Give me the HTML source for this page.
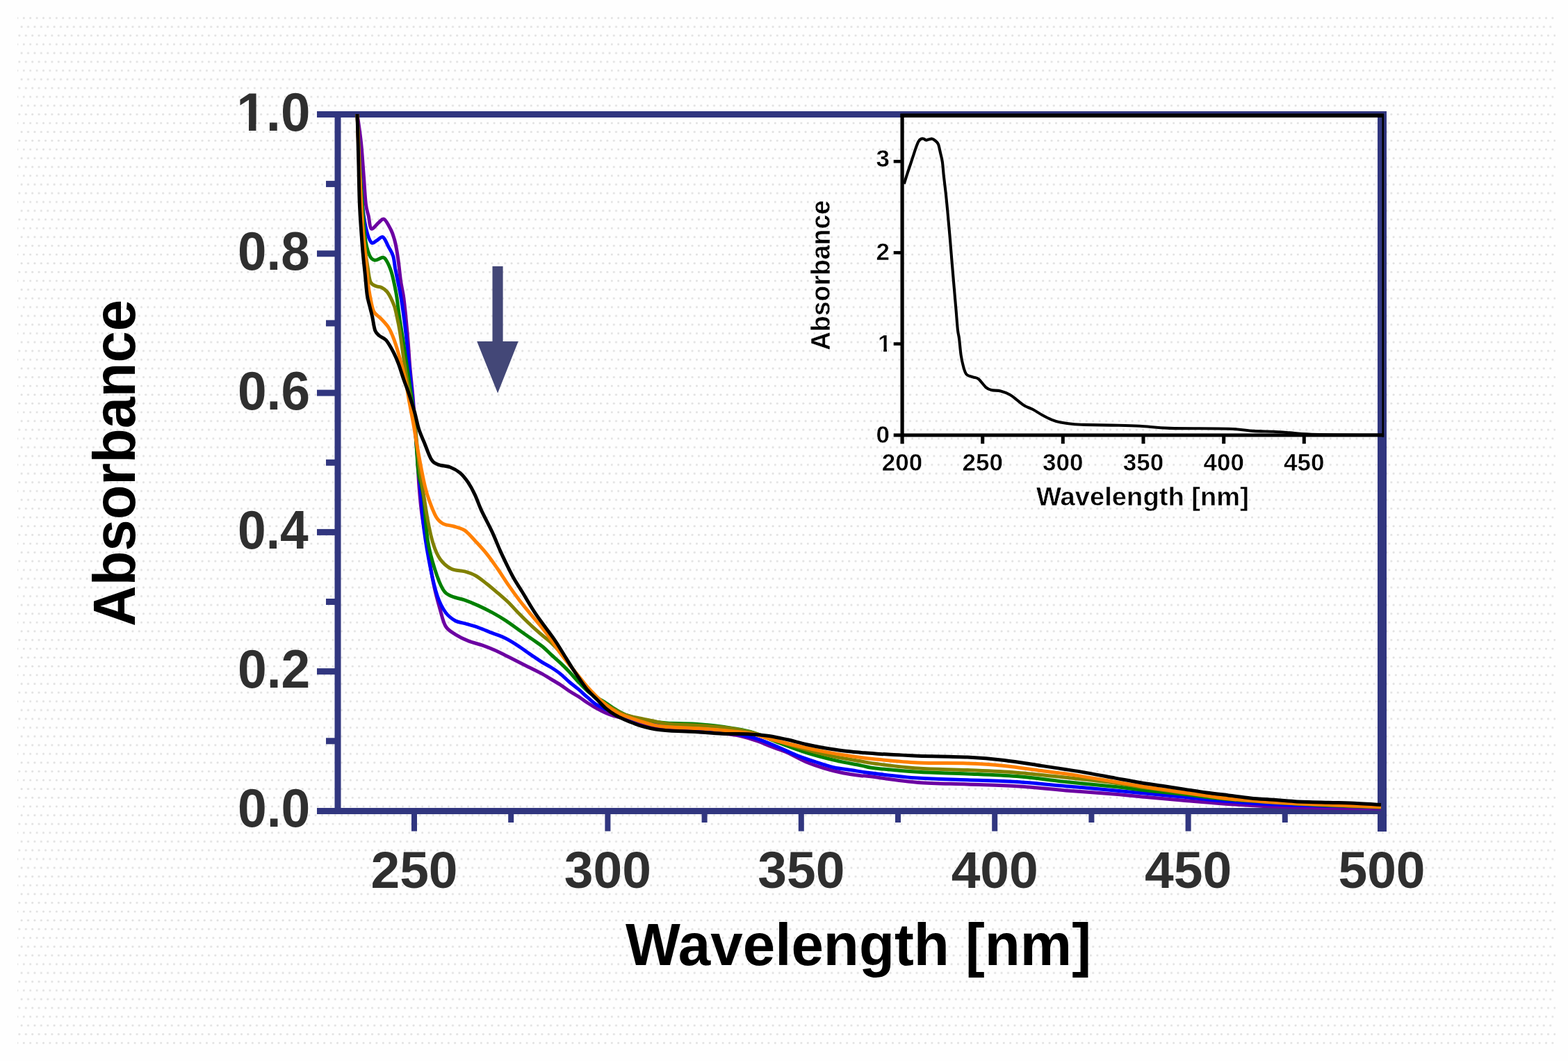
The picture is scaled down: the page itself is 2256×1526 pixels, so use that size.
<!DOCTYPE html>
<html><head><meta charset="utf-8"><title>Absorbance spectra</title>
<style>
html,body{margin:0;padding:0;background:#fff;}
body{width:2256px;height:1526px;overflow:hidden;position:relative;}
svg{position:absolute;left:0;top:0;}
</style></head>
<body>
<svg width="2256" height="1526" viewBox="0 0 2256 1526">
<defs><pattern id="dots" x="0" y="0" width="9.4" height="37.8" patternUnits="userSpaceOnUse"><g fill="#e0e0e0"><circle cx="6.1" cy="25.9" r="1.5"/><circle cx="2.9" cy="0.7" r="1.5"/><circle cx="2.9" cy="38.5" r="1.5"/><circle cx="9.1" cy="13.3" r="1.5"/><circle cx="-0.3" cy="13.3" r="1.5"/></g></pattern></defs>
<rect x="0" y="0" width="2256" height="1526" fill="#fefefe"/>
<rect x="25" y="16" width="2213" height="1489" fill="url(#dots)"/>
<g fill="#31367f">
<rect x="456" y="160" width="1539" height="9"/>
<rect x="456" y="1162" width="1539" height="9"/>
<rect x="481.5" y="160" width="9" height="1011"/>
<rect x="1982" y="160" width="13" height="1036"/>
<rect x="456" y="961.2" width="30" height="9"/>
<rect x="456" y="760.9" width="30" height="9"/>
<rect x="456" y="560.6" width="30" height="9"/>
<rect x="456" y="360.3" width="30" height="9"/>
<rect x="469" y="1061.3" width="17" height="9"/>
<rect x="469" y="861.0" width="17" height="9"/>
<rect x="469" y="660.8" width="17" height="9"/>
<rect x="469" y="460.4" width="17" height="9"/>
<rect x="469" y="260.1" width="17" height="9"/>
<rect x="592.0" y="1166" width="8" height="29.5"/>
<rect x="870.4" y="1166" width="8" height="29.5"/>
<rect x="1148.8" y="1166" width="8" height="29.5"/>
<rect x="1427.2" y="1166" width="8" height="29.5"/>
<rect x="1705.6" y="1166" width="8" height="29.5"/>
<rect x="731.2" y="1166" width="8" height="17"/>
<rect x="1009.6" y="1166" width="8" height="17"/>
<rect x="1288.0" y="1166" width="8" height="17"/>
<rect x="1566.4" y="1166" width="8" height="17"/>
<rect x="1844.8" y="1166" width="8" height="17"/>
</g>
<g font-family="Liberation Sans, Arial, sans-serif" font-weight="bold" fill="#2f2f2f">
<text x="342.00" y="1189.4" font-size="78" textLength="104.39" lengthAdjust="spacingAndGlyphs">0.0</text>
<text x="342.00" y="989.1" font-size="78" textLength="104.31" lengthAdjust="spacingAndGlyphs">0.2</text>
<text x="342.08" y="788.8" font-size="78" textLength="101.60" lengthAdjust="spacingAndGlyphs">0.4</text>
<text x="342.01" y="588.5" font-size="78" textLength="104.00" lengthAdjust="spacingAndGlyphs">0.6</text>
<text x="342.02" y="388.2" font-size="78" textLength="103.60" lengthAdjust="spacingAndGlyphs">0.8</text>
<clipPath id="c1"><rect x="0" y="0" width="2256" height="179.0"/><rect x="357.99" y="0" width="10.47" height="1526"/><rect x="381.84" y="0" width="800" height="1526"/></clipPath>
<text x="340.18" y="187.9" font-size="78" textLength="106.26" lengthAdjust="spacingAndGlyphs" clip-path="url(#c1)">1.0</text>
<text x="596.0" y="1277.3" font-size="75" text-anchor="middle">250</text>
<text x="874.4" y="1277.3" font-size="75" text-anchor="middle">300</text>
<text x="1152.8" y="1277.3" font-size="75" text-anchor="middle">350</text>
<text x="1431.2" y="1277.3" font-size="75" text-anchor="middle">400</text>
<text x="1709.6" y="1277.3" font-size="75" text-anchor="middle">450</text>
<text x="1988.0" y="1277.3" font-size="75" text-anchor="middle">500</text>
</g>
<g font-family="Liberation Sans, Arial, sans-serif" font-weight="bold" fill="#000">
<text x="900" y="1388" font-size="86" textLength="670" lengthAdjust="spacingAndGlyphs">Wavelength [nm]</text>
<text transform="translate(194.3,901) rotate(-90)" x="0" y="0" font-size="86" textLength="470" lengthAdjust="spacingAndGlyphs">Absorbance</text>
</g>
<path d="M708.5,383 H723.6 V491 H745.7 L716.1,565.5 L686.2,491 H708.5 Z" fill="#434777"/>
<g fill="#000">
<rect x="1295.5" y="163.3" width="695.5" height="5.7"/>
<rect x="1988.4" y="164" width="2.8" height="464.6"/>
<rect x="1295.5" y="164" width="5.2" height="474.3"/>
<rect x="1285.7" y="623.4" width="705.5" height="5"/>
<rect x="1285.7" y="492.3" width="12" height="4.6"/>
<rect x="1285.7" y="361.1" width="12" height="4.6"/>
<rect x="1285.7" y="229.9" width="12" height="4.6"/>
<rect x="1411.2" y="625" width="5" height="13.2"/>
<rect x="1526.8" y="625" width="5" height="13.2"/>
<rect x="1642.5" y="625" width="5" height="13.2"/>
<rect x="1758.2" y="625" width="5" height="13.2"/>
<rect x="1873.8" y="625" width="5" height="13.2"/>
</g>
<g font-family="Liberation Sans, Arial, sans-serif" font-weight="bold" fill="#000" stroke="#fefefe" stroke-width="0.5">
<text x="1280" y="637.3" font-size="35" text-anchor="end">0</text>
<clipPath id="c2"><rect x="0" y="0" width="2256" height="502.0"/><rect x="1271.2" y="0" width="4.8" height="1526"/></clipPath>
<text x="1282.5" y="506.1" font-size="35" text-anchor="end" clip-path="url(#c2)">1</text>
<text x="1280" y="373.9" font-size="35" text-anchor="end">2</text>
<text x="1280" y="240.2" font-size="35" text-anchor="end">3</text>
<text x="1298.0" y="676.8" font-size="35" text-anchor="middle">200</text>
<text x="1413.7" y="676.8" font-size="35" text-anchor="middle">250</text>
<text x="1529.3" y="676.8" font-size="35" text-anchor="middle">300</text>
<text x="1645.0" y="676.8" font-size="35" text-anchor="middle">350</text>
<text x="1760.7" y="676.8" font-size="35" text-anchor="middle">400</text>
<text x="1876.3" y="676.8" font-size="35" text-anchor="middle">450</text>
<text x="1491" y="727.2" font-size="36" textLength="306" lengthAdjust="spacingAndGlyphs">Wavelength [nm]</text>
<text transform="translate(1194,504) rotate(-90)" font-size="39" textLength="216" lengthAdjust="spacingAndGlyphs">Absorbance</text>
</g>
<path d="M1300.8,264.5 C1301.6,261.9 1304.2,253.4 1305.7,248.8 C1307.2,244.2 1308.4,240.9 1309.7,237.0 C1311.0,233.1 1312.3,229.1 1313.6,225.2 C1314.9,221.3 1316.2,217.0 1317.5,213.4 C1318.8,209.8 1320.2,205.9 1321.5,203.6 C1322.8,201.3 1324.1,200.3 1325.4,199.7 C1326.7,199.0 1328.2,199.4 1329.3,199.7 C1330.4,200.0 1331.1,201.4 1332.3,201.6 C1333.5,201.8 1334.7,200.9 1336.2,200.6 C1337.7,200.3 1339.5,199.4 1341.1,199.7 C1342.7,200.0 1344.5,201.3 1346.0,202.6 C1347.5,203.9 1348.8,204.7 1350.0,207.5 C1351.2,210.3 1351.9,215.0 1352.9,219.3 C1353.9,223.6 1355.1,227.5 1355.9,233.1 C1356.7,238.7 1357.0,245.2 1357.8,252.7 C1358.6,260.2 1359.8,269.1 1360.8,278.3 C1361.8,287.5 1362.7,297.3 1363.7,307.8 C1364.7,318.3 1365.7,329.7 1366.7,341.2 C1367.7,352.7 1368.6,364.8 1369.6,376.6 C1370.6,388.4 1371.6,400.5 1372.6,412.0 C1373.6,423.5 1374.6,434.9 1375.5,445.4 C1376.4,455.9 1377.2,468.1 1378.0,475.0 C1378.8,481.9 1379.2,480.7 1380.0,486.6 C1380.8,492.5 1381.6,503.9 1382.6,510.5 C1383.6,517.1 1384.6,521.8 1385.9,526.5 C1387.2,531.2 1388.3,535.9 1390.6,538.5 C1392.9,541.1 1397.0,541.3 1399.9,542.4 C1402.8,543.5 1404.8,542.6 1407.9,545.1 C1411.0,547.6 1415.4,554.4 1418.5,557.1 C1421.6,559.8 1423.0,560.2 1426.5,561.1 C1430.0,562.0 1435.4,561.3 1439.8,562.4 C1444.2,563.5 1449.1,565.5 1453.1,567.7 C1457.1,569.9 1460.2,573.0 1463.7,575.7 C1467.2,578.4 1470.6,581.5 1474.4,583.7 C1478.2,585.9 1482.1,586.8 1486.3,589.0 C1490.5,591.2 1495.2,594.6 1499.6,597.0 C1504.0,599.4 1508.5,601.8 1512.9,603.6 C1517.3,605.4 1520.7,606.5 1526.2,607.6 C1531.8,608.7 1540.7,609.8 1546.2,610.3 C1551.8,610.8 1550.6,610.7 1559.5,610.9 C1568.4,611.1 1586.0,611.3 1599.4,611.6 C1612.8,611.9 1626.0,612.0 1640.0,612.7 C1654.0,613.4 1661.8,615.2 1683.1,615.9 C1704.4,616.6 1747.8,616.0 1767.7,616.7 C1787.7,617.4 1792.2,619.2 1802.8,619.9 C1813.4,620.6 1822.7,620.3 1831.5,620.7 C1840.3,621.1 1846.1,621.6 1855.4,622.3 C1864.7,623.0 1864.9,624.2 1887.3,624.7 C1909.7,625.2 1972.9,625.4 1990.0,625.5" fill="none" stroke="#000" stroke-width="4.1" stroke-linejoin="round"/>
<g fill="none" stroke-width="5.0" stroke-linejoin="round" stroke-linecap="butt">
<path d="M514.0,164.0 C514.9,170.8 517.9,190.0 519.5,205.0 C521.1,220.0 522.2,239.2 523.4,254.0 C524.5,268.8 525.2,284.2 526.4,293.7 C527.5,303.2 529.0,305.1 530.3,311.0 C531.6,316.9 531.8,327.5 534.2,329.0 C536.7,330.5 541.9,322.3 545.0,320.0 C548.1,317.7 549.9,313.5 552.9,315.3 C555.9,317.1 560.2,326.1 562.7,331.0 C565.2,335.9 566.3,340.2 567.6,344.8 C568.9,349.4 569.6,352.9 570.6,358.5 C571.6,364.1 572.5,370.6 573.5,378.2 C574.5,385.8 575.4,395.9 576.5,403.8 C577.6,411.7 579.2,417.5 580.4,425.4 C581.5,433.3 582.3,440.2 583.4,451.0 C584.5,461.8 585.9,476.8 587.0,490.0 C588.1,503.2 588.8,516.7 590.0,530.0 C591.2,543.3 592.8,556.7 594.0,570.0 C595.2,583.3 596.0,596.7 597.0,610.0 C598.0,623.3 599.0,635.0 600.0,650.0 C601.0,665.0 601.8,685.0 603.0,700.0 C604.2,715.0 605.2,726.9 607.0,740.0 C608.8,753.1 610.9,762.4 613.6,778.7 C616.3,795.0 620.1,821.3 623.4,837.7 C626.7,854.1 630.3,866.5 633.3,877.0 C636.2,887.5 637.5,894.7 641.1,900.6 C644.7,906.5 649.3,908.8 654.9,912.4 C660.5,916.0 668.0,919.6 674.6,922.2 C681.2,924.8 687.7,925.8 694.2,928.1 C700.8,930.4 707.3,933.0 713.9,936.0 C720.5,939.0 727.0,942.5 733.6,945.8 C740.2,949.1 746.7,952.4 753.2,955.7 C759.8,959.0 768.4,963.3 772.9,965.5 C777.4,967.7 776.6,967.2 780.0,969.1 C783.4,971.0 788.7,974.4 793.1,977.0 C797.5,979.6 801.8,982.0 806.2,984.8 C810.6,987.6 814.9,991.1 819.3,994.0 C823.7,996.9 828.0,999.1 832.4,1001.9 C836.8,1004.7 841.1,1008.2 845.5,1011.0 C849.9,1013.8 854.2,1016.5 858.6,1018.9 C863.0,1021.3 867.8,1023.8 871.7,1025.5 C875.6,1027.2 877.5,1028.0 882.2,1029.4 C886.9,1030.8 892.0,1031.9 900.0,1034.0 C908.0,1036.1 920.0,1039.8 930.0,1042.0 C940.0,1044.2 948.3,1045.3 960.0,1047.0 C971.7,1048.7 986.7,1050.7 1000.0,1052.0 C1013.3,1053.3 1029.2,1053.9 1040.0,1055.0 C1050.8,1056.1 1056.7,1056.7 1065.0,1058.5 C1073.3,1060.3 1082.5,1063.4 1090.0,1066.0 C1097.5,1068.6 1102.8,1071.3 1110.0,1074.0 C1117.2,1076.7 1124.7,1078.8 1132.9,1082.4 C1141.2,1086.0 1150.6,1091.9 1159.5,1095.7 C1168.4,1099.5 1177.2,1102.3 1186.1,1105.0 C1195.0,1107.7 1203.8,1109.9 1212.7,1111.7 C1221.6,1113.5 1233.1,1114.9 1239.3,1115.7 C1245.5,1116.5 1236.4,1114.9 1250.0,1116.5 C1263.6,1118.1 1297.3,1123.5 1320.9,1125.4 C1344.5,1127.3 1368.2,1127.1 1391.8,1128.0 C1415.4,1128.9 1439.1,1129.2 1462.8,1130.7 C1486.5,1132.2 1510.1,1135.0 1533.7,1136.9 C1557.3,1138.8 1585.2,1140.6 1604.6,1142.2 C1624.0,1143.8 1634.1,1145.1 1650.0,1146.6 C1665.9,1148.1 1681.7,1149.4 1700.0,1151.0 C1718.3,1152.6 1738.3,1154.5 1760.0,1156.0 C1781.7,1157.5 1806.7,1159.0 1830.0,1160.0 C1853.3,1161.0 1873.8,1161.5 1900.0,1162.0 C1926.2,1162.5 1972.5,1162.8 1987.0,1163.0" stroke="#6c00a2"/>
<path d="M514.0,164.0 C514.3,171.7 515.2,194.0 516.0,210.0 C516.8,226.0 518.0,245.0 519.0,260.0 C520.0,275.0 520.7,288.3 522.0,300.0 C523.3,311.7 525.0,321.9 527.0,330.0 C529.0,338.1 531.7,346.0 534.2,348.7 C536.7,351.4 539.2,347.3 542.0,346.0 C544.8,344.7 548.2,339.5 551.0,340.9 C553.8,342.3 556.3,350.0 558.8,354.6 C561.2,359.2 564.1,363.2 565.7,368.4 C567.3,373.6 567.5,379.8 568.6,386.0 C569.8,392.2 571.3,399.1 572.6,405.7 C573.9,412.3 575.2,417.8 576.5,425.4 C577.8,432.9 579.1,441.9 580.4,451.0 C581.6,460.1 582.7,468.5 584.0,480.0 C585.3,491.5 586.7,506.7 588.0,520.0 C589.3,533.3 590.7,546.7 592.0,560.0 C593.3,573.3 594.7,585.0 596.0,600.0 C597.3,615.0 598.5,633.3 600.0,650.0 C601.5,666.7 603.1,681.8 604.7,700.0 C606.3,718.2 607.2,739.3 609.7,759.0 C612.2,778.7 616.2,801.6 619.5,818.0 C622.8,834.4 625.7,846.8 629.3,857.3 C632.9,867.8 636.8,875.0 641.1,880.9 C645.4,886.8 650.3,890.1 654.9,892.7 C659.5,895.3 663.1,895.1 668.7,896.7 C674.3,898.4 681.8,900.3 688.3,902.6 C694.8,904.9 701.4,907.8 708.0,910.4 C714.6,913.0 721.2,915.0 727.7,918.3 C734.2,921.6 740.8,925.8 747.3,930.1 C753.8,934.4 761.5,940.2 767.0,943.9 C772.5,947.6 775.6,949.8 780.0,952.5 C784.4,955.2 788.7,957.2 793.1,960.0 C797.5,962.8 801.8,965.6 806.2,969.1 C810.6,972.6 814.9,977.3 819.3,981.0 C823.7,984.7 828.0,987.7 832.4,991.4 C836.8,995.1 841.1,999.5 845.5,1003.2 C849.9,1006.9 854.2,1010.9 858.6,1013.7 C863.0,1016.5 866.5,1017.8 871.7,1020.2 C876.9,1022.6 883.5,1025.6 890.0,1028.0 C896.5,1030.4 900.3,1032.2 911.0,1034.7 C921.7,1037.2 939.5,1041.0 954.3,1043.2 C969.1,1045.4 985.7,1046.5 1000.0,1048.0 C1014.3,1049.5 1027.8,1050.2 1040.0,1052.0 C1052.2,1053.8 1064.2,1056.5 1073.0,1058.5 C1081.8,1060.5 1085.2,1061.1 1093.0,1063.8 C1100.8,1066.5 1110.7,1070.7 1119.6,1074.5 C1128.5,1078.3 1137.3,1082.9 1146.2,1086.4 C1155.1,1089.9 1163.9,1092.8 1172.8,1095.7 C1181.7,1098.6 1190.5,1101.7 1199.4,1103.7 C1208.3,1105.7 1217.6,1106.4 1226.0,1107.7 C1234.4,1109.0 1234.2,1109.6 1250.0,1111.5 C1265.8,1113.4 1297.3,1117.4 1320.9,1119.1 C1344.5,1120.8 1368.2,1120.9 1391.8,1121.8 C1415.4,1122.7 1439.1,1123.0 1462.8,1124.5 C1486.5,1126.0 1510.1,1128.6 1533.7,1130.7 C1557.3,1132.8 1585.2,1135.1 1604.6,1136.9 C1624.0,1138.7 1634.1,1139.8 1650.0,1141.3 C1665.9,1142.8 1681.7,1144.2 1700.0,1146.0 C1718.3,1147.8 1738.3,1150.2 1760.0,1152.0 C1781.7,1153.8 1806.7,1155.8 1830.0,1157.0 C1853.3,1158.2 1873.8,1158.5 1900.0,1159.0 C1926.2,1159.5 1972.5,1159.8 1987.0,1160.0" stroke="#0000ff"/>
<path d="M514.0,164.0 C514.5,175.0 515.8,209.0 517.0,230.0 C518.2,251.0 519.7,271.7 521.0,290.0 C522.3,308.3 523.3,327.3 525.0,340.0 C526.7,352.7 528.9,360.7 531.3,366.4 C533.6,372.1 535.8,373.6 539.1,374.3 C542.4,375.0 548.0,370.0 551.0,370.3 C554.0,370.6 554.8,372.9 556.8,376.2 C558.8,379.5 561.1,385.1 562.7,390.0 C564.4,394.9 565.4,399.8 566.7,405.7 C568.0,411.6 569.3,417.2 570.6,425.4 C571.9,433.6 572.9,444.1 574.5,454.9 C576.1,465.7 578.1,477.5 580.0,490.0 C581.9,502.5 584.0,516.7 586.0,530.0 C588.0,543.3 590.3,558.3 592.0,570.0 C593.7,581.7 594.8,588.3 596.0,600.0 C597.2,611.7 598.0,626.7 599.0,640.0 C600.0,653.3 600.7,670.0 602.0,680.0 C603.3,690.0 605.4,693.3 606.7,700.0 C608.0,706.7 608.5,706.9 610.0,720.0 C611.5,733.1 613.0,762.4 615.6,778.7 C618.2,795.0 621.8,806.5 625.4,818.0 C629.0,829.5 633.3,841.0 637.2,847.5 C641.1,854.0 643.8,854.7 649.0,857.3 C654.2,859.9 662.2,860.9 668.7,863.2 C675.2,865.5 681.8,868.2 688.3,871.1 C694.8,874.0 701.4,877.3 708.0,880.9 C714.6,884.5 721.2,888.4 727.7,892.7 C734.2,897.0 740.8,901.9 747.3,906.5 C753.8,911.1 761.5,916.5 767.0,920.3 C772.5,924.1 775.6,926.0 780.0,929.5 C784.4,933.0 788.7,937.6 793.1,941.6 C797.5,945.6 801.8,949.2 806.2,953.4 C810.6,957.5 814.9,961.9 819.3,966.5 C823.7,971.1 828.0,976.4 832.4,981.0 C836.8,985.6 840.9,990.2 845.5,994.0 C850.1,997.8 855.6,1001.2 860.0,1004.0 C864.4,1006.8 867.5,1008.3 871.7,1011.0 C875.9,1013.7 880.3,1017.2 885.0,1020.0 C889.7,1022.8 894.2,1025.7 900.0,1028.0 C905.8,1030.3 913.3,1032.4 920.0,1034.0 C926.7,1035.6 933.3,1036.5 940.0,1037.5 C946.7,1038.5 950.0,1039.3 960.0,1039.9 C970.0,1040.5 986.6,1040.3 999.9,1041.2 C1013.2,1042.1 1026.5,1043.3 1039.8,1045.2 C1053.1,1047.1 1066.4,1048.7 1079.7,1052.5 C1093.0,1056.3 1106.3,1063.0 1119.6,1068.0 C1132.9,1073.0 1146.2,1078.2 1159.5,1082.4 C1172.8,1086.6 1186.1,1090.0 1199.4,1093.1 C1212.7,1096.2 1229.2,1099.1 1239.3,1101.1 C1249.4,1103.1 1246.4,1103.5 1260.0,1105.0 C1273.6,1106.5 1298.9,1109.0 1320.9,1110.3 C1342.9,1111.6 1368.2,1111.9 1391.8,1112.9 C1415.4,1113.9 1439.1,1114.6 1462.8,1116.5 C1486.5,1118.4 1510.1,1122.0 1533.7,1124.5 C1557.3,1127.0 1585.2,1129.5 1604.6,1131.6 C1624.0,1133.7 1634.1,1135.2 1650.0,1136.9 C1665.9,1138.6 1681.7,1140.0 1700.0,1142.0 C1718.3,1144.0 1738.3,1147.0 1760.0,1149.0 C1781.7,1151.0 1806.7,1152.5 1830.0,1154.0 C1853.3,1155.5 1873.8,1156.8 1900.0,1158.0 C1926.2,1159.2 1972.5,1160.5 1987.0,1161.0" stroke="#008000"/>
<path d="M514.0,164.0 C514.5,175.0 516.0,207.3 517.0,230.0 C518.0,252.7 518.8,280.0 520.0,300.0 C521.2,320.0 522.5,335.7 524.0,350.0 C525.5,364.3 527.8,376.7 529.3,386.0 C530.8,395.3 531.2,401.4 533.2,405.7 C535.2,410.0 538.5,410.3 541.1,411.6 C543.7,412.9 546.4,412.3 549.0,413.6 C551.6,414.9 554.5,416.9 556.8,419.5 C559.1,422.1 560.9,425.7 562.7,429.3 C564.5,432.9 566.2,436.8 567.6,441.1 C569.0,445.4 569.8,449.4 571.0,455.0 C572.2,460.6 573.5,465.8 575.0,475.0 C576.5,484.2 578.2,497.8 580.0,510.0 C581.8,522.2 584.0,536.3 586.0,548.0 C588.0,559.7 590.2,569.3 592.0,580.0 C593.8,590.7 595.7,602.0 597.0,612.0 C598.3,622.0 599.0,630.3 600.0,640.0 C601.0,649.7 601.7,660.0 603.0,670.0 C604.3,680.0 605.6,686.8 607.7,700.0 C609.8,713.2 613.0,735.4 615.6,749.2 C618.2,763.0 620.5,773.4 623.4,782.6 C626.3,791.8 629.0,798.3 633.3,804.2 C637.6,810.1 643.1,815.0 649.0,818.0 C654.9,821.0 662.8,820.2 668.7,821.9 C674.6,823.6 679.2,825.1 684.4,828.0 C689.6,830.9 694.9,835.4 700.1,839.5 C705.4,843.6 710.6,848.1 715.9,852.6 C721.1,857.1 726.4,861.4 731.6,866.5 C736.8,871.6 742.0,877.7 747.3,883.0 C752.5,888.3 757.6,893.4 763.1,898.5 C768.6,903.6 775.0,909.2 780.0,913.5 C785.0,917.8 788.7,920.3 793.1,924.5 C797.5,928.7 801.9,933.4 806.2,938.5 C810.5,943.6 814.7,949.2 819.0,955.0 C823.3,960.8 827.6,967.2 832.0,973.0 C836.4,978.8 840.8,984.8 845.5,990.0 C850.2,995.2 855.6,1000.2 860.0,1004.0 C864.4,1007.8 867.8,1010.2 872.0,1013.0 C876.2,1015.8 880.3,1018.5 885.0,1021.0 C889.7,1023.5 894.2,1026.0 900.0,1028.0 C905.8,1030.0 913.8,1031.6 920.0,1033.0 C926.2,1034.4 930.6,1035.2 937.3,1036.5 C944.0,1037.8 949.5,1039.9 960.0,1041.0 C970.5,1042.1 986.7,1042.2 1000.0,1043.0 C1013.3,1043.8 1026.7,1044.3 1040.0,1046.0 C1053.3,1047.7 1066.7,1049.7 1080.0,1053.0 C1093.3,1056.3 1106.3,1061.8 1119.6,1066.0 C1132.8,1070.2 1146.2,1074.3 1159.5,1078.0 C1172.8,1081.7 1186.1,1085.2 1199.4,1088.0 C1212.7,1090.8 1229.2,1093.3 1239.3,1095.0 C1249.4,1096.7 1246.4,1096.7 1260.0,1098.4 C1273.6,1100.1 1298.9,1103.5 1320.9,1105.0 C1342.9,1106.5 1368.2,1106.6 1391.8,1107.6 C1415.4,1108.6 1439.1,1109.4 1462.8,1111.2 C1486.5,1113.0 1510.1,1115.8 1533.7,1118.3 C1557.3,1120.8 1585.2,1123.7 1604.6,1126.2 C1624.0,1128.7 1634.1,1131.0 1650.0,1133.3 C1665.9,1135.6 1681.7,1137.7 1700.0,1140.0 C1718.3,1142.3 1743.3,1145.2 1760.0,1147.0 C1776.7,1148.8 1776.7,1149.3 1800.0,1151.0 C1823.3,1152.7 1868.8,1155.3 1900.0,1157.0 C1931.2,1158.7 1972.5,1160.3 1987.0,1161.0" stroke="#808000"/>
<path d="M514.0,164.0 C514.3,173.3 515.2,200.7 516.0,220.0 C516.8,239.3 518.0,261.7 519.0,280.0 C520.0,298.3 520.8,314.6 522.0,330.0 C523.2,345.4 525.2,359.7 526.4,372.3 C527.6,384.9 528.3,396.9 529.3,405.7 C530.3,414.5 530.9,418.4 532.3,425.4 C533.7,432.4 535.2,442.5 537.7,447.9 C540.2,453.3 543.9,453.8 547.5,457.7 C551.1,461.6 556.0,466.2 559.3,471.5 C562.6,476.8 564.6,482.0 567.2,489.2 C569.8,496.4 572.5,505.5 575.1,514.7 C577.7,523.9 580.6,533.7 582.9,544.2 C585.2,554.7 586.8,566.9 588.8,577.7 C590.8,588.5 592.7,598.0 594.7,609.1 C596.7,620.2 598.6,633.4 600.6,644.5 C602.6,655.6 604.7,666.8 606.5,676.0 C608.3,685.2 609.8,692.7 611.6,700.0 C613.4,707.3 614.9,712.5 617.5,719.7 C620.1,726.9 624.1,737.7 627.4,743.3 C630.7,748.9 633.0,750.8 637.2,753.1 C641.5,755.4 647.6,755.4 652.9,757.0 C658.1,758.6 663.5,759.3 668.7,762.9 C674.0,766.5 679.2,773.1 684.4,778.7 C689.6,784.3 694.9,789.9 700.1,796.4 C705.4,802.9 710.6,810.5 715.9,818.0 C721.1,825.5 726.4,834.1 731.6,841.6 C736.8,849.1 742.0,856.3 747.3,863.2 C752.5,870.1 757.9,876.5 763.1,882.9 C768.4,889.3 773.8,895.3 778.8,901.5 C783.8,907.7 788.5,913.8 793.0,920.0 C797.5,926.2 801.5,932.8 806.0,939.0 C810.5,945.2 815.5,951.3 820.0,957.0 C824.5,962.7 828.7,967.7 833.0,973.0 C837.3,978.3 841.7,984.1 846.0,989.0 C850.3,993.9 854.7,998.3 859.0,1002.5 C863.3,1006.7 867.7,1010.6 872.0,1014.0 C876.3,1017.4 880.7,1020.4 885.0,1023.0 C889.3,1025.6 889.3,1026.2 898.0,1029.4 C906.7,1032.6 927.0,1039.3 937.3,1042.0 C947.6,1044.7 945.1,1044.3 960.0,1045.5 C974.9,1046.7 1006.5,1047.6 1026.5,1049.2 C1046.5,1050.8 1066.7,1052.8 1080.0,1055.0 C1093.3,1057.2 1095.3,1059.6 1106.3,1062.5 C1117.3,1065.4 1132.9,1069.4 1146.2,1072.5 C1159.5,1075.6 1172.8,1078.5 1186.1,1081.1 C1199.4,1083.6 1213.7,1086.0 1226.0,1087.8 C1238.3,1089.6 1244.2,1090.5 1260.0,1092.0 C1275.8,1093.5 1298.9,1096.0 1320.9,1097.0 C1342.9,1098.0 1371.1,1097.2 1391.8,1097.9 C1412.5,1098.6 1427.3,1099.6 1445.0,1101.4 C1462.7,1103.2 1480.5,1106.1 1498.2,1108.5 C1515.9,1110.9 1533.7,1112.9 1551.4,1115.6 C1569.1,1118.3 1589.8,1122.0 1604.6,1124.5 C1619.4,1127.0 1626.1,1128.3 1640.0,1130.5 C1653.9,1132.7 1669.3,1134.8 1687.9,1137.5 C1706.5,1140.2 1735.8,1144.9 1751.7,1147.0 C1767.7,1149.1 1771.6,1149.2 1783.6,1150.3 C1795.6,1151.4 1807.5,1152.5 1823.5,1153.5 C1839.5,1154.5 1855.4,1155.5 1879.3,1156.6 C1903.2,1157.6 1949.0,1159.1 1967.0,1159.8 C1985.0,1160.5 1983.7,1160.4 1987.0,1160.5" stroke="#ff8000"/>
<path d="M514.0,164.0 C514.2,170.0 514.7,187.3 515.0,200.0 C515.3,212.7 515.6,223.8 516.0,240.0 C516.4,256.2 516.6,277.6 517.5,297.0 C518.4,316.4 520.2,340.1 521.5,356.6 C522.8,373.1 524.3,384.6 525.4,396.0 C526.5,407.4 527.2,417.7 528.3,425.0 C529.4,432.3 530.6,434.9 531.8,440.0 C533.0,445.1 534.4,449.8 535.7,455.7 C537.0,461.6 538.0,470.8 539.7,475.4 C541.4,479.9 543.4,480.7 546.0,483.0 C548.6,485.3 552.2,485.6 555.4,489.2 C558.6,492.8 562.2,499.3 565.2,504.9 C568.2,510.5 570.5,515.7 573.1,522.6 C575.7,529.5 578.4,538.7 581.0,546.2 C583.6,553.7 586.2,559.9 588.8,567.8 C591.4,575.7 594.4,585.2 596.7,593.4 C599.0,601.6 600.3,609.8 602.6,617.0 C604.9,624.2 607.5,629.5 610.5,636.7 C613.5,643.9 617.0,655.1 620.3,660.3 C623.6,665.5 625.5,666.1 630.1,668.1 C634.7,670.1 642.5,670.0 647.8,672.0 C653.0,674.0 657.3,676.3 661.6,679.9 C665.9,683.5 669.8,688.5 673.4,693.7 C677.0,699.0 680.1,704.8 683.2,711.4 C686.4,718.0 688.2,724.5 692.3,733.4 C696.4,742.3 703.4,755.1 708.0,764.9 C712.6,774.7 716.0,784.0 719.8,792.4 C723.6,800.8 727.3,808.4 730.6,815.1 C733.9,821.8 736.3,826.7 739.8,832.8 C743.3,838.9 746.3,843.1 751.5,851.5 C756.7,859.9 763.4,872.0 770.9,883.2 C778.4,894.4 790.3,909.3 796.8,918.6 C803.3,927.9 805.5,932.1 809.8,939.0 C814.1,945.9 819.0,954.1 822.8,960.0 C826.6,965.9 828.6,968.9 832.4,974.4 C836.2,979.9 841.1,987.5 845.5,992.7 C849.9,997.9 854.2,1001.4 858.6,1005.8 C863.0,1010.2 867.3,1015.2 871.7,1018.9 C876.1,1022.6 880.4,1025.5 884.8,1028.1 C889.2,1030.7 893.6,1032.7 898.0,1034.7 C902.4,1036.7 906.6,1038.4 911.0,1040.0 C915.4,1041.6 918.7,1043.0 924.2,1044.5 C929.7,1046.0 937.2,1047.9 943.8,1049.0 C950.3,1050.1 954.1,1050.4 963.5,1051.0 C972.9,1051.6 987.2,1051.8 999.9,1052.5 C1012.6,1053.2 1026.5,1054.6 1039.8,1055.2 C1053.1,1055.8 1068.6,1055.4 1079.7,1055.9 C1090.8,1056.5 1097.4,1057.2 1106.3,1058.5 C1115.2,1059.8 1124.0,1061.8 1132.9,1063.8 C1141.8,1065.8 1150.6,1068.5 1159.5,1070.5 C1168.4,1072.5 1177.2,1074.2 1186.1,1075.8 C1195.0,1077.3 1203.8,1078.7 1212.7,1079.8 C1221.6,1080.9 1231.4,1081.7 1239.3,1082.4 C1247.2,1083.1 1246.4,1083.2 1260.0,1084.0 C1273.6,1084.8 1298.9,1086.4 1320.9,1087.2 C1342.9,1088.0 1371.1,1088.0 1391.8,1089.0 C1412.5,1090.0 1427.3,1091.3 1445.0,1093.4 C1462.7,1095.5 1480.5,1098.7 1498.2,1101.4 C1515.9,1104.1 1533.7,1106.5 1551.4,1109.4 C1569.1,1112.4 1589.8,1116.4 1604.6,1119.1 C1619.4,1121.8 1628.8,1123.6 1640.0,1125.5 C1651.2,1127.4 1661.3,1128.7 1671.9,1130.3 C1682.5,1131.9 1693.2,1133.5 1703.8,1135.1 C1714.4,1136.7 1725.0,1138.4 1735.7,1139.9 C1746.4,1141.4 1757.1,1142.6 1767.7,1143.9 C1778.3,1145.2 1789.0,1146.8 1799.6,1147.9 C1810.2,1149.0 1820.9,1149.5 1831.5,1150.3 C1842.1,1151.1 1850.1,1152.0 1863.4,1152.7 C1876.7,1153.4 1898.0,1153.9 1911.3,1154.3 C1924.6,1154.7 1930.6,1154.5 1943.2,1155.0 C1955.8,1155.5 1979.7,1157.0 1987.0,1157.4" stroke="#000000"/>
</g>
</svg>
</body></html>
